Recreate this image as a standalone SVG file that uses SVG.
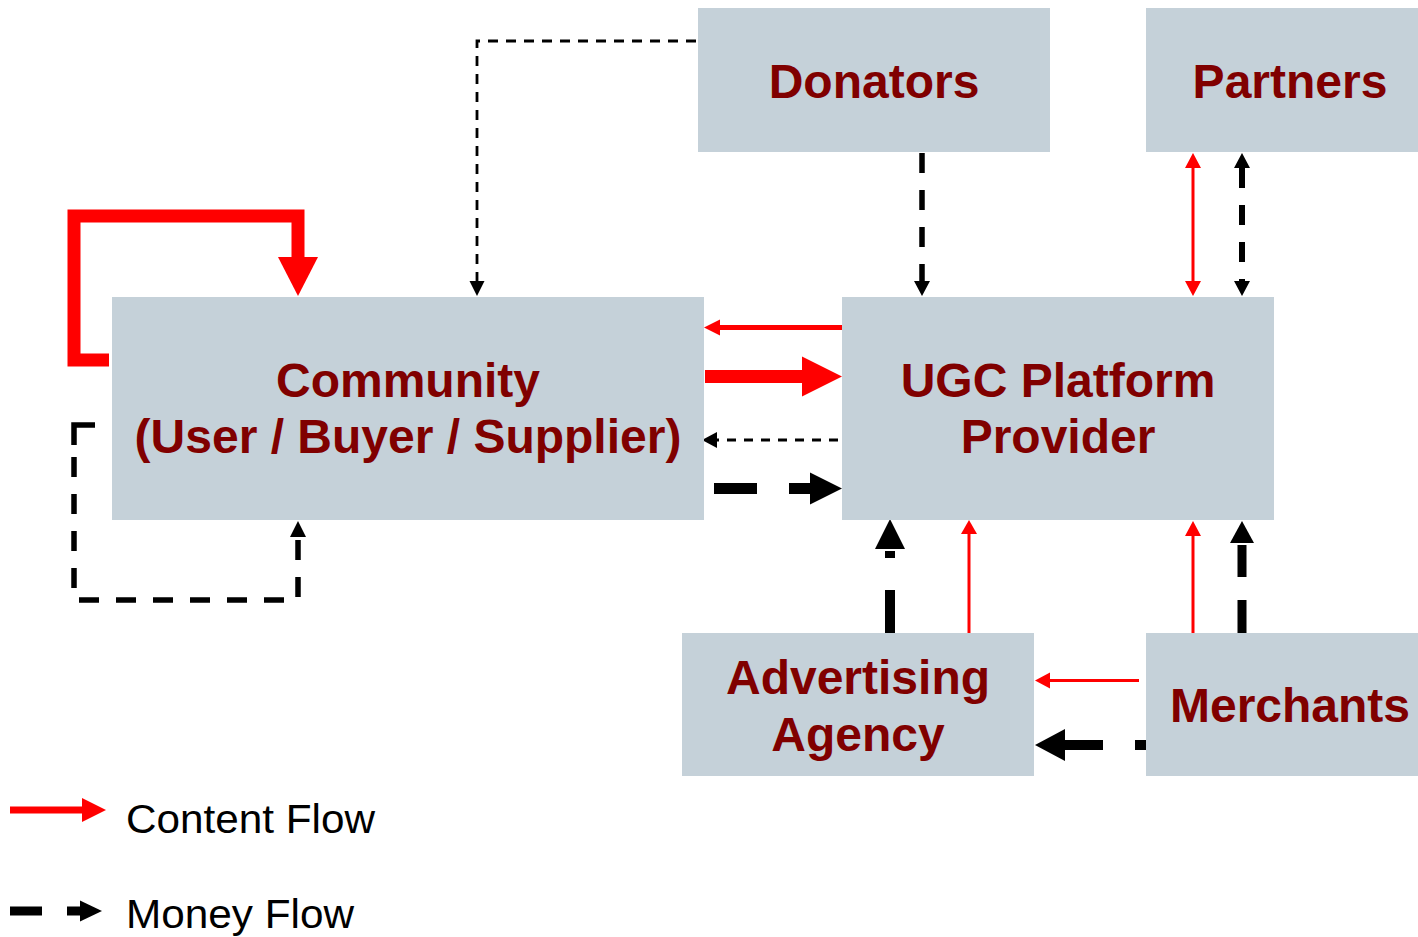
<svg xmlns="http://www.w3.org/2000/svg" width="1418" height="937" viewBox="0 0 1418 937">
<style>
.box{fill:#C5D1D9}
.lbl{font-family:"Liberation Sans",Arial,sans-serif;font-weight:bold;font-size:48px;fill:#800000;text-anchor:middle}
.leg{font-family:"Liberation Sans",Arial,sans-serif;font-size:40px;fill:#000}
.r{stroke:#FF0000;fill:none;stroke-linecap:butt}
.k{stroke:#000;fill:none;stroke-linecap:butt}
.rh{fill:#FF0000}
.kh{fill:#000}
</style>
<rect width="1418" height="937" fill="#fff"/>
<g id="connectors">
  <!-- community self content loop -->
  <path class="r" d="M109 360 H74 V216 H298 V259" stroke-width="13" stroke-linejoin="miter"/>
  <polygon class="rh" points="278,257 318,257 298,296"/>
  <!-- community self money loop -->
  <path class="k" d="M95 425 H74 V445" stroke-width="5.5" stroke-linejoin="miter"/>
  <path class="k" d="M74 457 V600 H298 V537" stroke-width="5.5" stroke-dasharray="20 17"/>
  <polygon class="kh" points="290,537 306,537 298,521"/>
  <!-- donators to community -->
  <path class="k" d="M696 41 H477 V282" stroke-width="2.8" stroke-dasharray="10 8"/>
  <polygon class="kh" points="469.5,281 484.5,281 477,296"/>
  <!-- UGC to community content -->
  <path class="r" d="M842 327.5 H718" stroke-width="5"/>
  <polygon class="rh" points="720,319.5 720,335.5 704,327.5"/>
  <!-- community to UGC content -->
  <path class="r" d="M705 376.5 H804" stroke-width="13"/>
  <polygon class="rh" points="802,356.5 842,376.5 802,396.5"/>
  <!-- UGC to community money -->
  <path class="k" d="M838 440 H716" stroke-width="3" stroke-dasharray="9 8"/>
  <polygon class="kh" points="717,432 717,448 702,440"/>
  <!-- community to UGC money -->
  <path class="k" d="M714 488.5 H812" stroke-width="11" stroke-dasharray="43 32"/>
  <polygon class="kh" points="810,472.5 842,488.5 810,504.5"/>
  <!-- donators to UGC money -->
  <path class="k" d="M922 153 V283" stroke-width="5.5" stroke-dasharray="20 17"/>
  <polygon class="kh" points="914,281 930,281 922,296"/>
  <!-- partners <-> UGC content -->
  <path class="r" d="M1193 166 V283" stroke-width="3"/>
  <polygon class="rh" points="1185,168 1201,168 1193,153"/>
  <polygon class="rh" points="1185,281 1201,281 1193,296"/>
  <!-- partners <-> UGC money -->
  <path class="k" d="M1242 168 V282" stroke-width="6" stroke-dasharray="20 17"/>
  <polygon class="kh" points="1234,168 1250,168 1242,153"/>
  <polygon class="kh" points="1234,281 1250,281 1242,296"/>
  <!-- advertising to UGC money -->
  <path class="k" d="M890 633 V551" stroke-width="10" stroke-dasharray="43 32"/>
  <polygon class="kh" points="875,549 905,549 890,519"/>
  <!-- advertising to UGC content -->
  <path class="r" d="M969 633 V532" stroke-width="3"/>
  <polygon class="rh" points="961,534 977,534 969,520"/>
  <!-- merchants to UGC content -->
  <path class="r" d="M1193 633 V534" stroke-width="3"/>
  <polygon class="rh" points="1185,536 1201,536 1193,521"/>
  <!-- merchants to UGC money -->
  <path class="k" d="M1242 633 V545" stroke-width="9" stroke-dasharray="33 23"/>
  <polygon class="kh" points="1230,543 1254,543 1242,521"/>
  <!-- merchants to advertising content -->
  <path class="r" d="M1139 680.5 H1048" stroke-width="3"/>
  <polygon class="rh" points="1050,672.5 1050,688.5 1035,680.5"/>
  <!-- merchants to advertising money -->
  <path class="k" d="M1146 745 H1063" stroke-width="10" stroke-dasharray="43 32" stroke-dashoffset="32"/>
  <polygon class="kh" points="1065,729 1065,761 1035,745"/>
</g>
<g id="donators">
  <rect class="box" x="698" y="8" width="352" height="144"/>
  <text class="lbl" x="874" y="98">Donators</text>
</g>
<g id="partners">
  <rect class="box" x="1146" y="8" width="272" height="144"/>
  <text class="lbl" x="1290" y="98">Partners</text>
</g>
<g id="community">
  <rect class="box" x="112" y="297" width="592" height="223"/>
  <text class="lbl" x="408" y="397">Community</text>
  <text class="lbl" x="408" y="453">(User / Buyer / Supplier)</text>
</g>
<g id="ugc">
  <rect class="box" x="842" y="297" width="432" height="223"/>
  <text class="lbl" x="1058" y="397">UGC Platform</text>
  <text class="lbl" x="1058" y="453">Provider</text>
</g>
<g id="advertising">
  <rect class="box" x="682" y="633" width="352" height="143"/>
  <text class="lbl" x="858" y="694">Advertising</text>
  <text class="lbl" x="858" y="751">Agency</text>
</g>
<g id="merchants">
  <rect class="box" x="1146" y="633" width="272" height="143"/>
  <text class="lbl" x="1290" y="722">Merchants</text>
</g>
<g id="legend">
  <path class="r" d="M10 810 H84" stroke-width="7"/>
  <polygon class="rh" points="82,798 106,810 82,822"/>
  <text class="leg" x="126" y="833" textLength="249" lengthAdjust="spacingAndGlyphs">Content Flow</text>
  <path class="k" d="M10 911 H42 M67 911 H82" stroke-width="9"/>
  <polygon class="kh" points="80,900.5 102,911 80,921.5"/>
  <text class="leg" x="126" y="928" textLength="228" lengthAdjust="spacingAndGlyphs">Money Flow</text>
</g>
</svg>
